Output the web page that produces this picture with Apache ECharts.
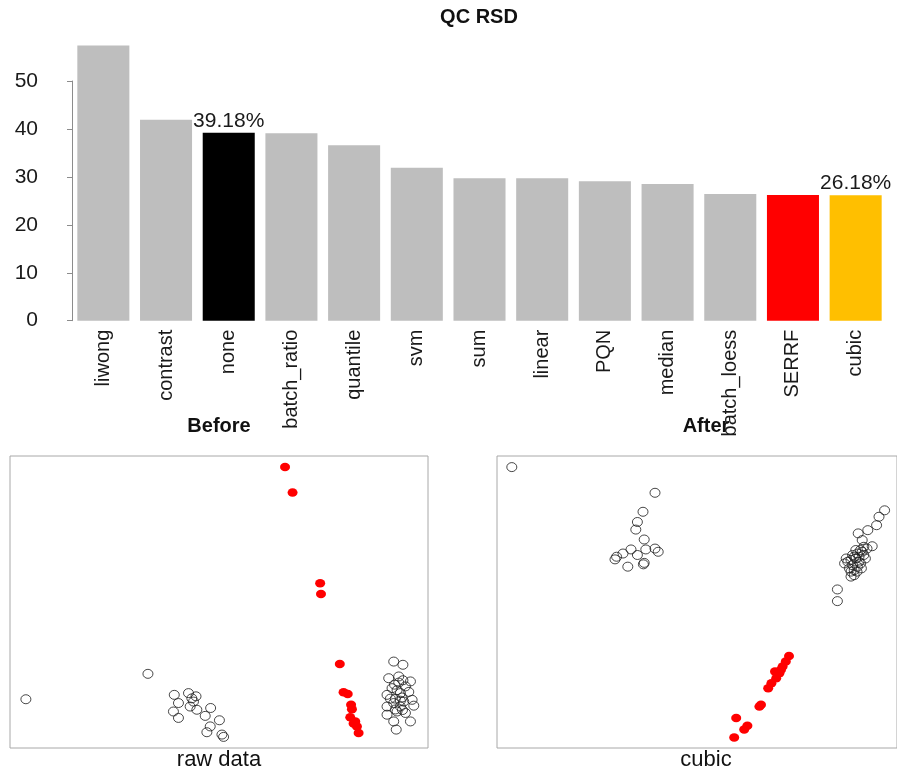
<!DOCTYPE html>
<html>
<head>
<meta charset="utf-8">
<script src="https://cdn.jsdelivr.net/npm/echarts@6/dist/echarts.min.js"></script>
<style>html,body{margin:0;padding:0;background:#fff}#c{width:897px;height:774px}</style>
</head>
<body>
<div id="c"></div>
<script>
// ---- data ----
const categories = ['liwong','contrast','none','batch_ratio','quantile','svm','sum','linear','PQN','median','batch_loess','SERRF','cubic'];
const rsdValues = [57.4, 41.9, 39.18, 39.1, 36.6, 31.9, 29.7, 29.7, 29.1, 28.5, 26.4, 26.2, 26.18];
const yTicks = [0, 10, 20, 30, 40, 50];
const labelledCategories = ['none', 'cubic'];

// PCA-like score positions (arbitrary units 0-100)
const beforeQC = [[65.8,96.2],[67.6,87.5],[74.2,56.4],[74.4,52.7],[78.9,28.8],[79.8,19.1],[80.8,18.5],[81.6,14.8],[81.8,13.3],[81.4,10.5],[82.6,9.1],[83.0,7.4],[83.4,5.1],[82.2,8.4]];
const beforeSamples = [[3.8,16.7],[33.0,25.4],
  [39.3,18.2],[42.7,18.8],[44.5,17.7],[43.9,15.9],[40.3,15.4],[43.1,14.2],[39.1,12.5],[44.7,13.1],[48.0,13.7],[40.3,10.3],[46.7,11.0],[50.1,9.5],[47.9,7.4],[47.1,5.4],[50.7,4.6],[51.1,3.8],[43.5,17.0],
  [91.8,29.6],[94.0,28.5],[90.6,23.9],[93.0,24.5],[95.8,22.8],[94.6,21.1],[90.2,18.2],[93.4,18.8],[96.2,16.5],[91.8,15.4],[96.6,14.5],[90.2,14.2],[93.4,14.2],[92.6,12.5],[90.2,11.4],[94.6,12.0],[91.8,9.1],[95.8,9.1],[92.4,6.3],
  [93.8,17.3],[92.2,16.9],[93.0,22.4],[91.4,20.5],[94.2,15.9],[95.4,19.2],[92.2,13.2],[91.0,16.9],[93.4,16.2],[92.6,19.8],[94.0,23.2],[92.0,21.7],[93.9,13.0]];
const afterQC = [[73.0,31.5],[72.2,29.6],[71.4,27.9],[69.5,26.2],[70.6,25.6],[69.8,23.9],[68.6,22.2],[67.8,20.5],[66.0,14.8],[65.6,14.2],[59.8,10.3],[62.6,7.6],[61.8,6.3],[59.3,3.6],[71.0,26.8]];
const afterSamples = [[3.7,96.2],[39.5,87.4],[36.5,80.9],[35.1,77.4],[34.7,74.8],[36.8,71.4],[37.2,68.0],[39.5,68.3],[40.3,67.2],[33.5,68.0],[35.1,66.1],[31.5,66.6],[29.9,65.5],[29.5,64.6],[32.7,62.1],[36.8,63.4],[36.6,62.9],
  [95.5,79.2],[94.9,76.3],[92.7,74.6],[90.3,73.5],[91.3,71.2],[93.8,69.1],[91.7,68.9],[90.9,67.8],[90.1,66.6],[89.3,65.5],[88.5,64.4],[89.7,64.9],[90.5,63.8],[88.9,62.6],[88.1,61.5],[89.3,60.9],[90.9,63.2],[91.7,66.1],[87.7,63.8],[90.1,62.1],[88.5,58.7],[91.3,67.2],[92.5,68.3],[89.7,67.8],[90.5,65.5],[88.9,66.1],[87.3,64.9],[90.0,60.4],[91.1,61.5],[88.5,60.4],[86.9,63.2],[89.3,59.2],[92.1,64.9],[96.9,81.4],
  [85.1,54.3],[85.1,50.3]];

// ---- chart ----
const FONT = 'Liberation Sans, Arial, sans-serif';
const highlight = {none: '#000000', SERRF: '#ff0000', cubic: '#ffbf00'};
const barData = categories.map((c, i) => ({
  value: rsdValues[i],
  itemStyle: {color: highlight[c] || '#bebebe'},
  label: labelledCategories.indexOf(c) >= 0 ? {show: true} : {show: false}
}));

const ELLIPSE = 'path://M0,5a5,5 0 1,0 10,0a5,5 0 1,0 -10,0z';
const openCircle = {color: 'rgba(0,0,0,0)', borderColor: '#1a1a1a', borderWidth: 0.8, opacity: 1};
const redDot = {color: '#ff0000', opacity: 1};

const chart = echarts.init(document.getElementById('c'), null, {renderer: 'canvas'});
chart.setOption({
  animation: false,
  textStyle: {fontFamily: FONT},
  title: [
    {text: 'QC RSD', left: 479, top: 7, textAlign: 'center', padding: 0, textStyle: {fontSize: 20, fontWeight: 'bold', color: '#111', fontFamily: FONT}},
    {text: 'Before', left: 219, top: 416, textAlign: 'center', padding: 0, textStyle: {fontSize: 20, fontWeight: 'bold', color: '#111', fontFamily: FONT}},
    {text: 'After', left: 706, top: 416, textAlign: 'center', padding: 0, textStyle: {fontSize: 20, fontWeight: 'bold', color: '#111', fontFamily: FONT}},
    {text: 'raw data', left: 219, top: 749, textAlign: 'center', padding: 0, textStyle: {fontSize: 22, fontWeight: 'normal', color: '#111', fontFamily: FONT}},
    {text: 'cubic', left: 706, top: 749, textAlign: 'center', padding: 0, textStyle: {fontSize: 22, fontWeight: 'normal', color: '#111', fontFamily: FONT}}
  ],
  grid: [
    {left: 72, right: 10, top: 33, bottom: 453.3},
    {left: 72, right: 10, top: 81, bottom: 453.3},
    {left: 10, top: 456, width: 418, height: 292, show: true, borderColor: '#a8a8a8', borderWidth: 1, backgroundColor: '#fff'},
    {left: 497, top: 456, width: 418, height: 292, show: true, borderColor: '#a8a8a8', borderWidth: 1, backgroundColor: '#fff'}
  ],
  xAxis: [
    {type: 'category', gridIndex: 0, data: categories, axisLine: {show: false}, axisTick: {show: false},
     axisLabel: {rotate: 90, margin: 9, fontSize: 20, color: '#1a1a1a', fontFamily: FONT, interval: 0}},
    {type: 'value', gridIndex: 1, show: false, min: 0, max: 1},
    {type: 'value', gridIndex: 2, show: false, min: 0, max: 100},
    {type: 'value', gridIndex: 3, show: false, min: 0, max: 100}
  ],
  yAxis: [
    {type: 'value', gridIndex: 0, min: 0, max: 60, show: false},
    {type: 'value', gridIndex: 1, min: yTicks[0], max: yTicks[yTicks.length - 1], interval: yTicks[1] - yTicks[0], offset: 27,
     axisLine: {show: true, lineStyle: {color: '#8c8c8c', width: 1}},
     axisTick: {show: true, length: 5, lineStyle: {color: '#8c8c8c'}},
     splitLine: {show: false},
     axisLabel: {margin: 7, fontSize: 21, color: '#1a1a1a', fontFamily: FONT}},
    {type: 'value', gridIndex: 2, show: false, min: 0, max: 100},
    {type: 'value', gridIndex: 3, show: false, min: 0, max: 100}
  ],
  series: [
    {type: 'bar', xAxisIndex: 0, yAxisIndex: 0, data: barData, barCategoryGap: '17%',
     label: {position: 'top', distance: 1, fontSize: 21, color: '#1a1a1a', fontFamily: FONT,
             formatter: p => p.value.toFixed(2) + '%'}},
    {type: 'scatter', xAxisIndex: 2, yAxisIndex: 2, data: beforeSamples, symbol: ELLIPSE, symbolSize: [10, 9], itemStyle: openCircle},
    {type: 'scatter', xAxisIndex: 2, yAxisIndex: 2, data: beforeQC, symbol: ELLIPSE, symbolSize: [10, 8.5], itemStyle: redDot},
    {type: 'scatter', xAxisIndex: 3, yAxisIndex: 3, data: afterSamples, symbol: ELLIPSE, symbolSize: [10, 9], itemStyle: openCircle},
    {type: 'scatter', xAxisIndex: 3, yAxisIndex: 3, data: afterQC, symbol: ELLIPSE, symbolSize: [10, 8.5], itemStyle: redDot}
  ]
});
</script>
</body>
</html>
